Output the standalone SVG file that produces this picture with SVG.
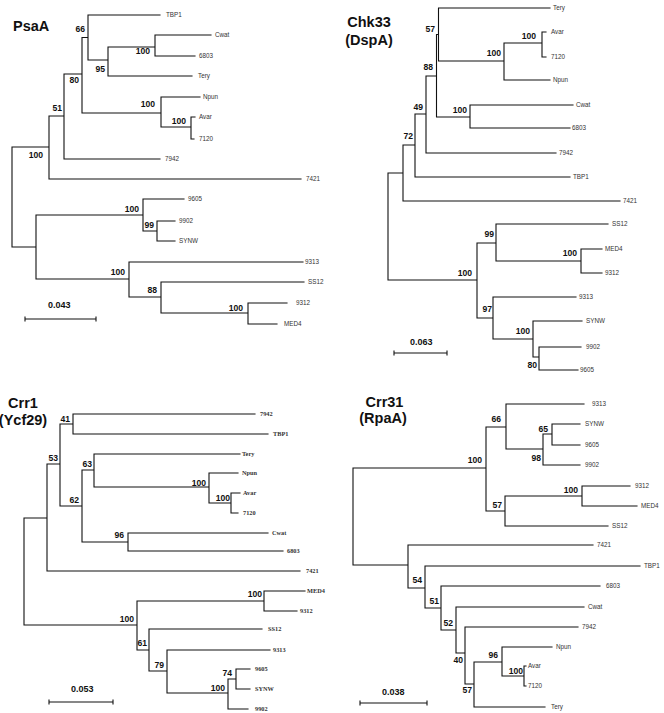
<svg xmlns="http://www.w3.org/2000/svg" width="664" height="713" viewBox="0 0 664 713">
<style>
.br{fill:none;stroke:#111;stroke-width:1.1;stroke-linecap:square}
.bs{font-family:"Liberation Sans",Arial,sans-serif;font-weight:bold;font-size:8.6px;fill:#111;text-anchor:end}
.lf{font-family:"Liberation Sans",Arial,sans-serif;font-size:6.3px;fill:#333}
.lfs{font-family:"Liberation Serif","Times New Roman",serif;font-weight:bold;font-size:6.3px;fill:#333}
.tt{font-family:"Liberation Sans",Arial,sans-serif;font-weight:bold;font-size:14.5px;fill:#111}
.sc{font-family:"Liberation Sans",Arial,sans-serif;font-weight:bold;font-size:9px;fill:#111}
</style>
<rect width="664" height="713" fill="#fff"/>
<g id="connectors">
<path class="br" d="M12,147V247M12,147H49M12,247H36M49,116V179M49,116H64M49,179H301M64,74V159M64,74H82M64,159H160M82,37.5V113M82,37.5H88M82,113H161M88,15V60M88,15H160M88,60H108M108,47V76M108,47H155M108,76H192M155,35V56M155,35H211M155,56H195M161,97V127M161,97H200M161,127H191M191,117V139M191,117H195M191,139H194M36,215V279M36,215H143M36,279H129M143,199V231M143,199H184M143,231H157M157,221V241M157,221H175M157,241H175M129,262V297M129,262H303M129,297H161M161,282V313M161,282H304M161,313H248M248,303V324M248,303H287M248,324H277"/>
<path class="br" d="M388,173V280M388,173H403M388,280H477M403,145V201M403,145H415M403,201H620M415,114V177M415,114H426M415,177H570M426,76V153M426,76H436.5M426,153H556M436.5,34.5V117M436.5,34.5H438.5M436.5,117H470M438.5,8V61M438.5,8H550M438.5,61H504M504,43V80M504,43H542M504,80H550M542,32V57M542,32H546M542,57H546M470,105V128M470,105H573M470,128H570M477,243V318M477,243H496M477,318H493M496,224V261M496,224H608M496,261H581M581,249V273M581,249H602M581,273H602M493,297V339M493,297H576M493,339H533M533,321V357M533,321H582M533,357H539M539,347V370M539,347H581M539,370H578"/>
<path class="br" d="M24,518V625M24,518H47M24,625H137M47,464V571M47,464H60M47,571H300M60,424V506M60,424H73M60,506H82M73,414V434M73,414H255M73,434H268M82,470V542M82,470H94M82,542H128M94,454V487M94,454H240M94,487H209M209,473V503M209,473H238M209,503H231M231,493V513M231,493H240M231,513H238M128,533V551M128,533H268M128,551H283M137,601V650M137,601H264M137,650H149M264,591V611M264,591H305M264,611H297M149,629V671M149,629H262M149,671H167M167,650V693M167,650H270M167,693H228M228,679V709M228,679H236M228,709H248M236,669V689M236,669H250M236,689H250"/>
<path class="br" d="M353,468V565M353,468H486M353,565H408M486,427V511M486,427H506M486,511H505M506,404V449M506,404H584M506,449H543M543,434V465M543,434H552M543,465H580M552,424V445M552,424H580M552,445H580M505,496V526M505,496H582M505,526H608M582,486V506M582,486H630M582,506H637M408,545V588M408,545H593M408,588H425M425,566V608M425,566H640M425,608H441M441,586V630M441,586H600M441,630H456M456,607V653M456,607H584M456,653H465M465,627V684M465,627H578M465,684H474M474,662V707M474,662H502M474,707H545M502,647V676M502,647H552M502,676H524M524,666V686M524,666H526M524,686H526"/>
<path class="br" d="M25,319H96M25,317V321M96,317V321M394,353H447M394,351V355M447,351V355M49,702H113M49,700V704M113,700V704M360,703H427M360,701V705M427,701V705"/>
</g>
<g id="psaA">
<text class="tt" x="13" y="31">PsaA</text>
<g id="psaA-n66"><text class="bs" x="85" y="32">66</text></g>
<g id="psaA-n95"><text class="bs" x="105" y="72">95</text></g>
<g id="psaA-n100a"><text class="bs" x="150" y="54">100</text></g>
<g id="psaA-n80"><text class="bs" x="79" y="83">80</text></g>
<g id="psaA-n100b"><text class="bs" x="155" y="107">100</text></g>
<g id="psaA-n100c"><text class="bs" x="186" y="124">100</text></g>
<g id="psaA-n51"><text class="bs" x="62" y="111">51</text></g>
<g id="psaA-n100d"><text class="bs" x="43" y="158">100</text></g>
<g id="psaA-n100e"><text class="bs" x="139" y="212">100</text></g>
<g id="psaA-n99"><text class="bs" x="154" y="228">99</text></g>
<g id="psaA-n100f"><text class="bs" x="125" y="275">100</text></g>
<g id="psaA-n88"><text class="bs" x="157" y="293">88</text></g>
<g id="psaA-n100g"><text class="bs" x="243" y="311">100</text></g>
<g id="psaA-TBP1"><text class="lf" x="166" y="17.2">TBP1</text></g>
<g id="psaA-Cwat"><text class="lf" x="215" y="37.2">Cwat</text></g>
<g id="psaA-6803"><text class="lf" x="199" y="58.2">6803</text></g>
<g id="psaA-Tery"><text class="lf" x="198" y="78.2">Tery</text></g>
<g id="psaA-Npun"><text class="lf" x="203" y="99.2">Npun</text></g>
<g id="psaA-Avar"><text class="lf" x="199" y="119.2">Avar</text></g>
<g id="psaA-7120"><text class="lf" x="199" y="141.2">7120</text></g>
<g id="psaA-7942"><text class="lf" x="165" y="161.2">7942</text></g>
<g id="psaA-7421"><text class="lf" x="306" y="181.2">7421</text></g>
<g id="psaA-9605"><text class="lf" x="188" y="201.2">9605</text></g>
<g id="psaA-9902"><text class="lf" x="179" y="223.2">9902</text></g>
<g id="psaA-SYNW"><text class="lf" x="179" y="243.2">SYNW</text></g>
<g id="psaA-9313"><text class="lf" x="305" y="264.2">9313</text></g>
<g id="psaA-SS12"><text class="lf" x="308" y="284.2">SS12</text></g>
<g id="psaA-9312"><text class="lf" x="296" y="305.2">9312</text></g>
<g id="psaA-MED4"><text class="lf" x="284" y="326.2">MED4</text></g>
<text class="sc" x="48" y="308">0.043</text>
</g>
<g id="chk33">
<text class="tt" x="369" y="27" text-anchor="middle">Chk33</text>
<text class="tt" x="369" y="45" text-anchor="middle">(DspA)</text>
<g id="chk-n57"><text class="bs" x="435" y="32">57</text></g>
<g id="chk-n100a"><text class="bs" x="501" y="56">100</text></g>
<g id="chk-n100b"><text class="bs" x="536" y="39">100</text></g>
<g id="chk-n88"><text class="bs" x="433" y="70">88</text></g>
<g id="chk-n100c"><text class="bs" x="467" y="113">100</text></g>
<g id="chk-n49"><text class="bs" x="423" y="110">49</text></g>
<g id="chk-n72"><text class="bs" x="413" y="139">72</text></g>
<g id="chk-n100d"><text class="bs" x="472" y="276">100</text></g>
<g id="chk-n99"><text class="bs" x="494" y="237">99</text></g>
<g id="chk-n100e"><text class="bs" x="577" y="256">100</text></g>
<g id="chk-n97"><text class="bs" x="492" y="312">97</text></g>
<g id="chk-n100f"><text class="bs" x="530" y="334">100</text></g>
<g id="chk-n80"><text class="bs" x="537" y="368">80</text></g>
<g id="chk-Tery"><text class="lf" x="553" y="10.2">Tery</text></g>
<g id="chk-Avar"><text class="lf" x="551" y="34.2">Avar</text></g>
<g id="chk-7120"><text class="lf" x="551" y="59.2">7120</text></g>
<g id="chk-Npun"><text class="lf" x="553" y="82.2">Npun</text></g>
<g id="chk-Cwat"><text class="lf" x="576" y="107.2">Cwat</text></g>
<g id="chk-6803"><text class="lf" x="572" y="130.2">6803</text></g>
<g id="chk-7942"><text class="lf" x="559" y="155.2">7942</text></g>
<g id="chk-TBP1"><text class="lf" x="573" y="179.2">TBP1</text></g>
<g id="chk-7421"><text class="lf" x="623" y="203.2">7421</text></g>
<g id="chk-SS12"><text class="lf" x="612" y="226.2">SS12</text></g>
<g id="chk-MED4"><text class="lf" x="605" y="251.2">MED4</text></g>
<g id="chk-9312"><text class="lf" x="605" y="275.2">9312</text></g>
<g id="chk-9313"><text class="lf" x="579" y="299.2">9313</text></g>
<g id="chk-SYNW"><text class="lf" x="586" y="323.2">SYNW</text></g>
<g id="chk-9902"><text class="lf" x="586" y="349.2">9902</text></g>
<g id="chk-9605"><text class="lf" x="580" y="372.2">9605</text></g>
<text class="sc" x="410" y="345">0.063</text>
</g>
<g id="crr1">
<text class="tt" x="23" y="408" text-anchor="middle">Crr1</text>
<text class="tt" x="23" y="425" text-anchor="middle">(Ycf29)</text>
<g id="crr1-n41"><text class="bs" x="70" y="422">41</text></g>
<g id="crr1-n53"><text class="bs" x="58" y="461">53</text></g>
<g id="crr1-n63"><text class="bs" x="92" y="467">63</text></g>
<g id="crr1-n62"><text class="bs" x="79" y="503">62</text></g>
<g id="crr1-n100a"><text class="bs" x="206" y="486">100</text></g>
<g id="crr1-n100b"><text class="bs" x="230" y="501">100</text></g>
<g id="crr1-n96"><text class="bs" x="124" y="538">96</text></g>
<g id="crr1-n100c"><text class="bs" x="134" y="622">100</text></g>
<g id="crr1-n100d"><text class="bs" x="262" y="597">100</text></g>
<g id="crr1-n61"><text class="bs" x="147" y="646">61</text></g>
<g id="crr1-n79"><text class="bs" x="164" y="668">79</text></g>
<g id="crr1-n100e"><text class="bs" x="225" y="691">100</text></g>
<g id="crr1-n74"><text class="bs" x="232" y="676">74</text></g>
<g id="crr1-7942"><text class="lfs" x="260" y="416">7942</text></g>
<g id="crr1-TBP1"><text class="lfs" x="273" y="436">TBP1</text></g>
<g id="crr1-Tery"><text class="lfs" x="242" y="456">Tery</text></g>
<g id="crr1-Npun"><text class="lfs" x="242" y="475">Npun</text></g>
<g id="crr1-Avar"><text class="lfs" x="243" y="495">Avar</text></g>
<g id="crr1-7120"><text class="lfs" x="243" y="515">7120</text></g>
<g id="crr1-Cwat"><text class="lfs" x="272" y="535">Cwat</text></g>
<g id="crr1-6803"><text class="lfs" x="287" y="553">6803</text></g>
<g id="crr1-7421"><text class="lfs" x="306" y="573">7421</text></g>
<g id="crr1-MED4"><text class="lfs" x="307" y="593">MED4</text></g>
<g id="crr1-9312"><text class="lfs" x="300" y="613">9312</text></g>
<g id="crr1-SS12"><text class="lfs" x="268" y="631">SS12</text></g>
<g id="crr1-9313"><text class="lfs" x="273" y="652">9313</text></g>
<g id="crr1-9605"><text class="lfs" x="255" y="671">9605</text></g>
<g id="crr1-SYNW"><text class="lfs" x="255" y="691">SYNW</text></g>
<g id="crr1-9902"><text class="lfs" x="255" y="711">9902</text></g>
<text class="sc" x="71" y="692">0.053</text>
</g>
<g id="crr31">
<text class="tt" x="384.5" y="407" text-anchor="middle">Crr31</text>
<text class="tt" x="383" y="423" text-anchor="middle">(RpaA)</text>
<g id="crr31-n66"><text class="bs" x="501" y="422">66</text></g>
<g id="crr31-n98"><text class="bs" x="541" y="461">98</text></g>
<g id="crr31-n65"><text class="bs" x="548" y="432">65</text></g>
<g id="crr31-n100a"><text class="bs" x="482" y="463">100</text></g>
<g id="crr31-n57a"><text class="bs" x="502" y="508">57</text></g>
<g id="crr31-n100b"><text class="bs" x="578" y="493">100</text></g>
<g id="crr31-n54"><text class="bs" x="422" y="583">54</text></g>
<g id="crr31-n51"><text class="bs" x="439" y="604">51</text></g>
<g id="crr31-n52"><text class="bs" x="453" y="626">52</text></g>
<g id="crr31-n40"><text class="bs" x="463" y="663">40</text></g>
<g id="crr31-n57b"><text class="bs" x="472" y="693">57</text></g>
<g id="crr31-n96"><text class="bs" x="498" y="658">96</text></g>
<g id="crr31-n100c"><text class="bs" x="523" y="674">100</text></g>
<g id="crr31-9313"><text class="lf" x="592" y="406.2">9313</text></g>
<g id="crr31-SYNW"><text class="lf" x="585" y="426.2">SYNW</text></g>
<g id="crr31-9605"><text class="lf" x="585" y="447.2">9605</text></g>
<g id="crr31-9902"><text class="lf" x="585" y="467.2">9902</text></g>
<g id="crr31-9312"><text class="lf" x="635" y="488.2">9312</text></g>
<g id="crr31-MED4"><text class="lf" x="641" y="508.2">MED4</text></g>
<g id="crr31-SS12"><text class="lf" x="612" y="528.2">SS12</text></g>
<g id="crr31-7421"><text class="lf" x="597" y="547.2">7421</text></g>
<g id="crr31-TBP1"><text class="lf" x="644" y="568.2">TBP1</text></g>
<g id="crr31-6803"><text class="lf" x="606" y="588.2">6803</text></g>
<g id="crr31-Cwat"><text class="lf" x="588" y="609.2">Cwat</text></g>
<g id="crr31-7942"><text class="lf" x="582" y="629.2">7942</text></g>
<g id="crr31-Npun"><text class="lf" x="556" y="649.2">Npun</text></g>
<g id="crr31-Avar"><text class="lf" x="528" y="668.2">Avar</text></g>
<g id="crr31-7120"><text class="lf" x="528" y="688.2">7120</text></g>
<g id="crr31-Tery"><text class="lf" x="551" y="709.2">Tery</text></g>
<text class="sc" x="382" y="695">0.038</text>
</g>
</svg>
